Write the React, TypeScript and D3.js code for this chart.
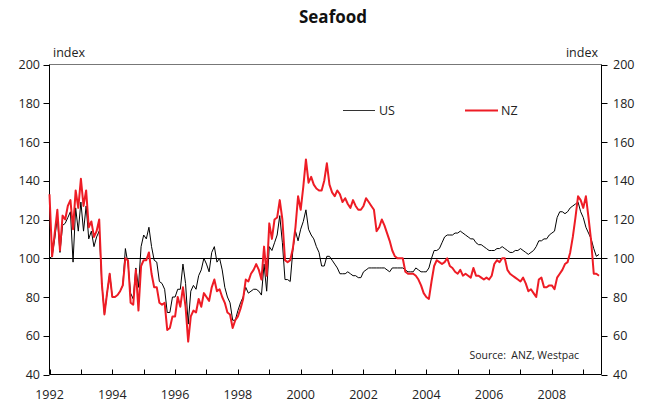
import React from "react";
import * as d3 from "d3";

const startYear = 1992;
const usIndex: number[] = [
  100, 101, 110, 121, 103, 117, 118, 121, 124, 98, 126, 114,
  129, 114, 127, 110, 114, 106, 111, 114, 87, 71, 82, 92,
  80, 80, 81, 83, 86, 105, 97, 82, 79, 95, 85, 106,
  112, 110, 116, 106, 99, 98, 88, 87, 84, 72, 72, 80,
  80, 84, 84, 97, 87, 66, 83, 86, 84, 91, 94, 100,
  97, 93, 103, 106, 98, 100, 94, 85, 80, 77, 68, 68,
  73, 77, 80, 85, 82, 83, 84, 84, 83, 81, 97, 83,
  106, 104, 108, 112, 122, 108, 89, 89, 88, 104, 114, 109,
  115, 119, 125, 115, 112, 110, 106, 103, 96, 96, 101, 101,
  99, 97, 95, 92, 92, 92, 93, 92, 91, 91, 90, 90,
  93, 94, 95, 95, 95, 95, 95, 95, 95, 94, 93, 95,
  95, 95, 95, 95, 94, 93, 93, 93, 95, 94, 93, 93,
  93, 95, 100, 104, 104, 105, 108, 111, 112, 112, 112, 113,
  113, 114, 113, 112, 111, 110, 110, 108, 107, 107, 106, 105,
  104, 104, 104, 105, 105, 106, 105, 104, 103, 103, 104, 104,
  105, 104, 103, 102, 103, 104, 106, 109, 109, 110, 110, 112,
  113, 114, 121, 124, 124, 123, 124, 126, 127, 128, 129, 124,
  121, 116, 113, 110, 105, 101, 102,
];
const nzIndex: number[] = [
  133, 101, 113, 125, 104, 122, 120, 127, 130, 115, 135, 126,
  141, 127, 135, 116, 119, 111, 114, 120, 87, 71, 82, 92,
  80, 80, 81, 83, 86, 100, 99, 77, 76, 94, 73, 96,
  99, 99, 103, 92, 85, 85, 77, 76, 77, 63, 64, 70,
  70, 80, 75, 85, 75, 57, 70, 73, 72, 79, 75, 82,
  80, 78, 85, 89, 83, 84, 80, 77, 72, 71, 64, 68,
  70, 74, 79, 89, 88, 92, 94, 97, 94, 89, 106, 91,
  118, 110, 120, 121, 130, 120, 99, 98, 99, 105, 116, 132,
  125, 137, 151, 139, 142, 138, 136, 135, 135, 140, 149, 138,
  134, 132, 135, 133, 129, 131, 128, 126, 130, 127, 125, 125,
  127, 131, 129, 127, 125, 114, 116, 120, 117, 113, 109, 104,
  101, 100, 100, 100, 93, 92, 92, 92, 91, 89, 86, 82,
  80, 79, 88, 96, 99, 98, 97, 98, 100, 96, 95, 93,
  92, 94, 91, 92, 91, 90, 95, 91, 91, 90, 89, 90,
  89, 91, 97, 99, 98, 100, 100, 94, 92, 91, 90, 89,
  88, 90, 87, 83, 84, 82, 80, 89, 90, 85, 85, 86,
  86, 84, 90, 92, 94, 97, 98, 103, 111, 121, 132, 130,
  126, 132, 121, 109, 92, 92, 91,
];
const yTicks: number[] = [40, 60, 80, 100, 120, 140, 160, 180, 200];
const xTickYears: number[] = d3.range(1992, 2010);
const xLabelYears: number[] = [1992, 1994, 1996, 1998, 2000, 2002, 2004, 2006, 2008];
const seriesNames = ["US", "NZ"];

const W = 654;
const H = 405;
const FONT = "'Open Sans', 'Noto Sans', sans-serif";
const RED = "#ee1c25";

export default function App() {
  const x = d3.scaleLinear().domain([1992, 2009.58]).range([49.5, 601.5]);
  const y = d3.scaleLinear().domain([40, 200]).range([374.5, 64.5]);
  const line = d3
    .line<number>()
    .x((_, i) => x(startYear + i / 12))
    .y((d) => y(d));
  const x0 = x.range()[0];
  const x1 = x.range()[1];
  const yb = y(40);
  const yt = y(200);
  return (
    <svg
      width={W}
      height={H}
      style={{ position: "absolute", left: 0, top: 0, background: "#fff" }}
      fontFamily={FONT}
    >
      <rect width={W} height={H} fill="#fff" />
      <text x={333} y={23} textAnchor="middle" fontSize={17} fontWeight="bold" fill="#111">
        Seafood
      </text>
      <text x={53} y={57} fontSize={12.5} fill="#222">index</text>
      <text x={598} y={57} fontSize={12.5} fill="#222" textAnchor="end">index</text>
      <line x1={x0} x2={x1} y1={yt} y2={yt} stroke="#777" strokeWidth={1} />
      <line x1={x0} x2={x0} y1={yt} y2={yb} stroke="#000" strokeWidth={1} />
      <line x1={x1} x2={x1} y1={yt} y2={yb} stroke="#000" strokeWidth={1} />
      <line x1={x0} x2={x1} y1={yb} y2={yb} stroke="#000" strokeWidth={1} />
      {yTicks.map((t) => (
        <g key={t}>
          <line x1={x0 - 6} x2={x0} y1={Math.round(y(t)) + 0.5} y2={Math.round(y(t)) + 0.5} stroke="#000" />
          <line x1={x1} x2={x1 + 6} y1={Math.round(y(t)) + 0.5} y2={Math.round(y(t)) + 0.5} stroke="#000" />
          <text x={40} y={y(t) + 4.5} textAnchor="end" fontSize={12.5} fill="#222">{t}</text>
          <text x={613} y={y(t) + 4.5} textAnchor="start" fontSize={12.5} fill="#222">{t}</text>
        </g>
      ))}
      {xTickYears.map((yr) => (
        <line key={yr} x1={Math.round(x(yr)) + 0.5} x2={Math.round(x(yr)) + 0.5} y1={yb} y2={yb - 5} stroke="#000" />
      ))}
      {xLabelYears.map((yr) => (
        <text key={yr} x={x(yr)} y={399} textAnchor="middle" fontSize={12.5} fill="#222">{yr}</text>
      ))}
      <line x1={x0} x2={x1} y1={Math.round(y(100)) + 0.5} y2={Math.round(y(100)) + 0.5} stroke="#000" strokeWidth={1.2} />
      <path d={line(usIndex) || ""} fill="none" stroke="#000" strokeWidth={1} strokeLinejoin="round" />
      <path d={line(nzIndex) || ""} fill="none" stroke={RED} strokeWidth={2} strokeLinejoin="round" />
      <line x1={343} x2={375} y1={110.5} y2={110.5} stroke="#333" strokeWidth={1} />
      <text x={379} y={115} fontSize={12.5} fill="#222">{seriesNames[0]}</text>
      <line x1={465} x2={498} y1={110.5} y2={110.5} stroke={RED} strokeWidth={2} />
      <text x={501} y={115} fontSize={12.5} fill="#222">{seriesNames[1]}</text>
      <text x={579} y={359} textAnchor="end" fontSize={10.5} fill="#222" xmlSpace="preserve">
        Source:  ANZ, Westpac
      </text>
    </svg>
  );
}
